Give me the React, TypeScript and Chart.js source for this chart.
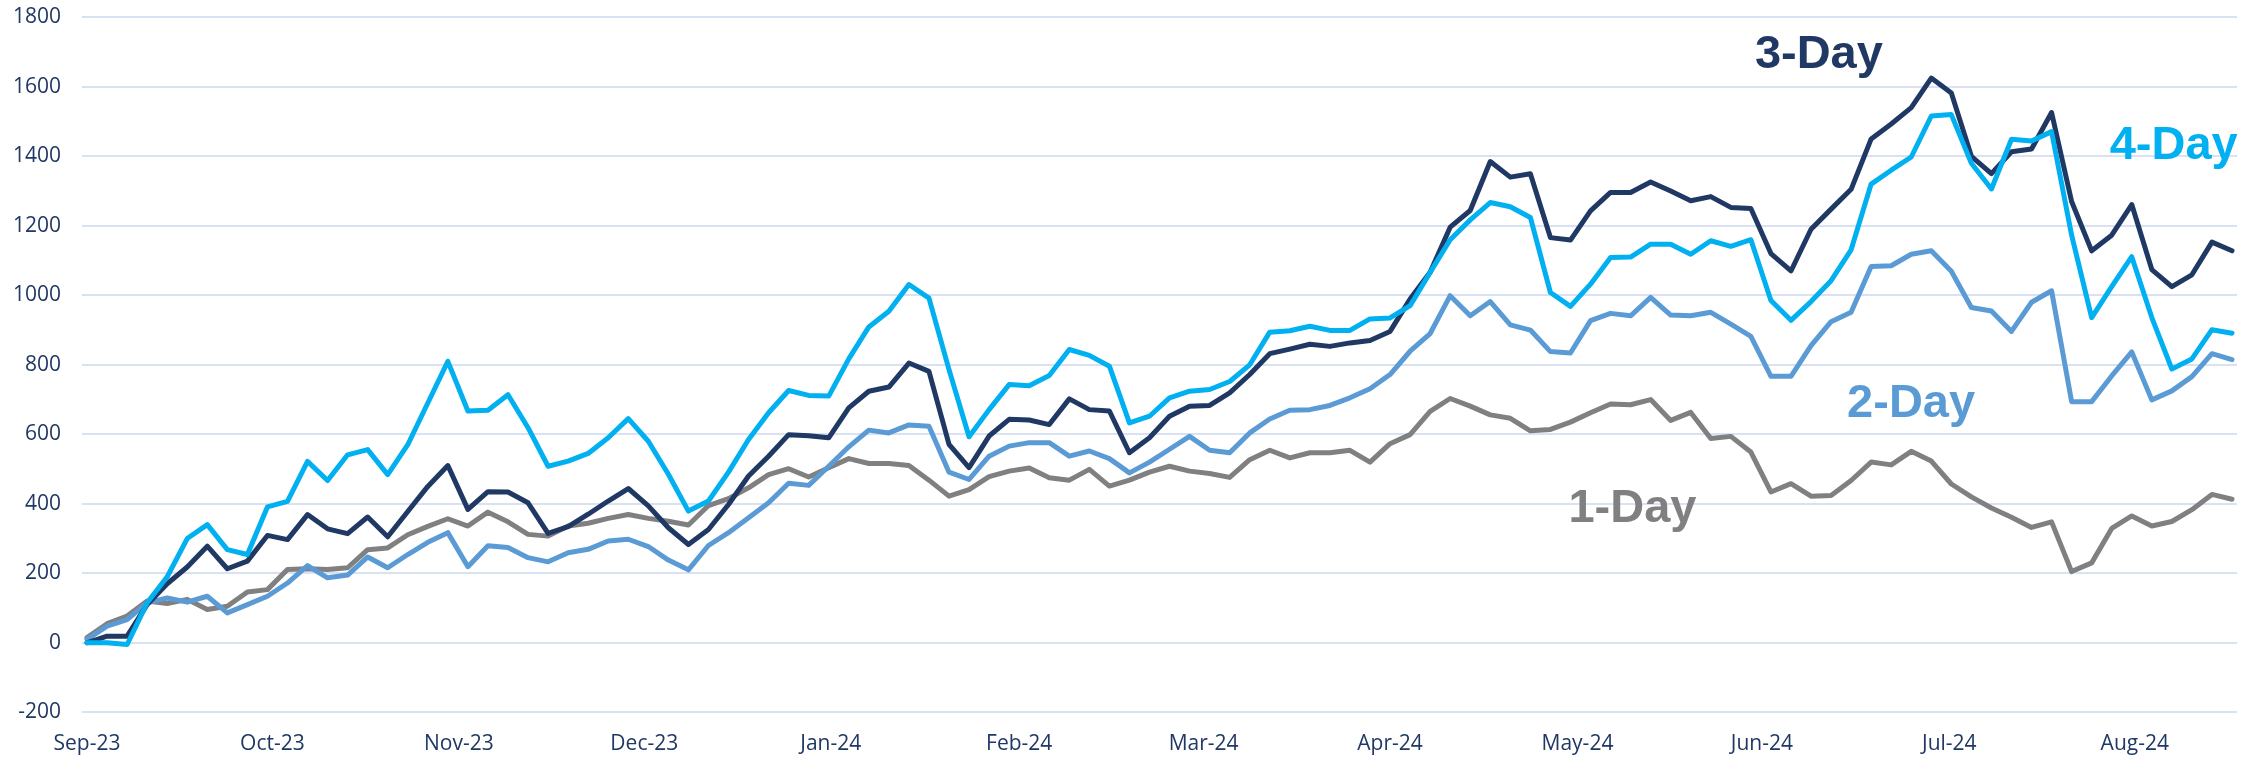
import React, { useEffect, useRef } from "react";
import { Chart, registerables } from "chart.js";

Chart.register(...registerables);

// Month tick labels and their positions on the trading-day axis
const monthLabels = ["Sep-23", "Oct-23", "Nov-23", "Dec-23", "Jan-24", "Feb-24", "Mar-24", "Apr-24", "May-24", "Jun-24", "Jul-24", "Aug-24"];
const monthTickDays = [0, 18.5, 37.1, 55.6, 74.2, 93, 111.4, 130, 148.7, 167.1, 185.8, 204.3];

// One value every second trading day, starting at day 0
const dayStep = 2;

const fourDay = [
  0, 0, -5, 115, 190, 300, 340, 268, 254, 391,
  407, 522, 467, 541, 556, 484, 570, 690, 810, 667,
  669, 714, 619, 508, 523, 545, 590, 645, 580, 485,
  379, 408, 491, 585, 662, 726, 712, 710, 817, 909,
  954, 1031, 992, 786, 593, 671, 743, 740, 769, 844,
  827, 796, 633, 652, 705, 724, 729, 752, 800, 894,
  898, 911, 899, 899, 932, 935, 970, 1066, 1160, 1217,
  1267, 1255, 1224, 1008, 968, 1032, 1109, 1110, 1147, 1147,
  1118, 1157, 1141, 1160, 985, 928, 982, 1042, 1131, 1320,
  1360, 1398, 1516, 1520, 1380, 1306, 1449, 1444, 1471, 1173,
  936, 1025, 1111, 936, 788, 817, 901, 891,
];

const threeDay = [
  0, 19, 19, 110, 170, 218, 278, 213, 235, 309,
  297, 369, 328, 314, 362, 305, 378, 450, 510, 384,
  435, 434, 403, 315, 334, 370, 408, 444, 394, 331,
  283, 326, 398, 480, 537, 599, 596, 590, 676, 724,
  736, 805, 781, 571, 504, 595, 643, 641, 628, 702,
  671, 667, 547, 590, 652, 681, 683, 719, 772, 832,
  845, 859, 853, 863, 870, 896, 989, 1066, 1196, 1244,
  1385, 1340, 1350, 1166, 1159, 1243, 1296, 1296, 1326, 1300,
  1272, 1284, 1253, 1250, 1120, 1070, 1190, 1248, 1305, 1450,
  1493, 1540, 1625, 1582, 1400, 1350, 1413, 1421, 1526, 1270,
  1128, 1173, 1261, 1074, 1025, 1059, 1153, 1128,
];

const twoDay = [
  10, 48, 67, 115, 129, 117, 134, 86, 110, 134,
  172, 222, 187, 195, 247, 216, 254, 289, 317, 219,
  279, 274, 245, 233, 259, 269, 293, 298, 277, 238,
  210, 280, 317, 360, 403, 459, 453, 508, 564, 612,
  604, 627, 623, 491, 470, 537, 566, 576, 576, 537,
  552, 530, 489, 520, 557, 594, 554, 547, 604, 644,
  669, 671, 683, 705, 731, 772, 839, 890, 999, 941,
  982, 915, 900, 838, 834, 927, 948, 941, 994, 943,
  941, 951, 917, 882, 767, 767, 855, 924, 951, 1083,
  1085, 1118, 1128, 1069, 965, 955, 896, 980, 1013, 694,
  694, 768, 837, 699, 725, 766, 832, 815,
];

const oneDay = [
  15, 55, 77, 120, 113, 125, 96, 105, 146, 153,
  211, 213, 211, 216, 268, 273, 311, 335, 357, 336,
  376, 348, 312, 307, 336, 344, 358, 369, 358, 350,
  339, 395, 415, 446, 484, 501, 477, 504, 530, 516,
  516, 510, 468, 422, 441, 478, 494, 503, 475, 468,
  499, 451, 468, 491, 508, 494, 487, 476, 527, 554,
  532, 547, 547, 554, 520, 573, 599, 666, 703, 681,
  656, 646, 610, 614, 635, 662, 687, 685, 700, 640,
  663, 588, 594, 549, 434, 458, 422, 424, 467, 520,
  512, 551, 523, 457, 420, 388, 361, 332, 348, 205,
  230, 329, 365, 336, 349, 383, 427, 413,
];

const seriesNames = ["4-Day", "3-Day", "2-Day", "1-Day"];
const seriesValues = [fourDay, threeDay, twoDay, oneDay];
const seriesColors = ["#00B0F0", "#203864", "#5B9BD5", "#808080"];

// Where each series name is written (day on x axis, value on y axis)
const nameDays = [201.8, 166.4, 175.6, 147.8];
const nameValues = [1393, 1655, 651, 349];

const yMin = -200;
const yMax = 1800;
const yStep = 200;
const xMin = -0.5;
const xMax = 214.5;

const tickColor = "#203864";
const gridColor = "#D9E2F3";

const seriesNamePlugin = {
  id: "seriesNames",
  afterDatasetsDraw(chart: any) {
    const { ctx, scales } = chart;
    const x = scales.x;
    const y = scales.y;
    ctx.save();
    ctx.font = 'bold 47px "Liberation Sans", Arial, sans-serif';
    ctx.textAlign = "left";
    ctx.textBaseline = "alphabetic";
    seriesNames.forEach((name, i) => {
      ctx.fillStyle = seriesColors[i];
      ctx.fillText(name, x.getPixelForValue(nameDays[i]), y.getPixelForValue(nameValues[i]));
    });
    ctx.restore();
  },
};

export default function App() {
  const ref = useRef<HTMLCanvasElement>(null);

  useEffect(() => {
    if (!ref.current) return;
    const datasets = seriesNames.map((name, i) => ({
      label: name,
      data: seriesValues[i].map((v, k) => ({ x: k * dayStep, y: v })),
      borderColor: seriesColors[i],
      backgroundColor: seriesColors[i],
      borderWidth: 5,
      borderJoinStyle: "round" as const,
      borderCapStyle: "round" as const,
      pointRadius: 0,
      tension: 0,
      fill: false,
      order: i,
    }));

    const chart = new Chart(ref.current, {
      type: "line",
      data: { datasets },
      options: {
        responsive: false,
        animation: false,
        events: [],
        layout: { padding: { top: 17.3, right: 28, bottom: 0, left: 0 }, autoPadding: false },
        plugins: {
          legend: { display: false },
          tooltip: { enabled: false },
          title: { display: false },
        },
        scales: {
          x: {
            type: "linear",
            min: xMin,
            max: xMax,
            grid: { display: false, drawTicks: false },
            border: { display: false },
            afterBuildTicks: (scale: any) => {
              scale.ticks = monthTickDays.map((v) => ({ value: v }));
            },
            afterFit: (scale: any) => {
              scale.height = 45.7;
              scale.paddingLeft = 0;
              scale.paddingRight = 0;
              scale.paddingTop = 0;
              scale.paddingBottom = 0;
            },
            ticks: {
              autoSkip: false,
              maxRotation: 0,
              minRotation: 0,
              padding: 19,
              color: tickColor,
              font: { family: '"Open Sans", sans-serif', size: 21 },
              callback: (_v: any, index: number) => monthLabels[index],
            },
          },
          y: {
            type: "linear",
            min: yMin,
            max: yMax,
            grid: { color: gridColor, lineWidth: 2, drawTicks: false },
            border: { display: false },
            afterFit: (scale: any) => {
              scale.width = 82;
              scale.paddingTop = 0;
              scale.paddingBottom = 0;
              scale.paddingLeft = 0;
              scale.paddingRight = 0;
            },
            ticks: {
              stepSize: yStep,
              padding: 21,
              color: tickColor,
              font: { family: '"Open Sans", sans-serif', size: 21 },
              callback: (v: any) => String(v),
            },
          },
        },
      },
      plugins: [seriesNamePlugin],
    });
    return () => chart.destroy();
  }, []);

  return (
    <div style={{ position: "fixed", left: 0, top: 0, width: 2265, height: 758, background: "#ffffff" }}>
      <canvas ref={ref} width={2265} height={758} style={{ display: "block", width: 2265, height: 758 }} />
    </div>
  );
}
